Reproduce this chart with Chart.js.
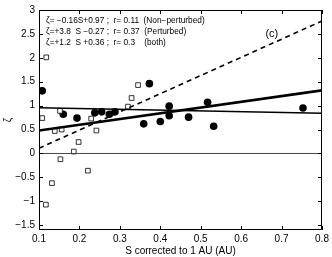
<!DOCTYPE html>
<html><head><meta charset="utf-8">
<script src="https://cdn.jsdelivr.net/npm/chart.js@4/dist/chart.umd.min.js"></script>
<style>html,body{margin:0;padding:0;background:#fff}#w{width:332px;height:257px;position:relative}</style>
</head><body><div id="w"><canvas id="c"></canvas></div>
<script>
// Non-perturbed (filled circles)
const circleS = [0.108,0.160,0.194,0.238,0.255,0.274,0.288,0.359,0.373,0.400,0.422,0.422,0.470,0.517,0.532,0.753];
const circleZ = [1.31,0.82,0.74,0.85,0.87,0.82,0.87,0.62,1.46,0.67,0.99,0.79,0.76,1.07,0.57,0.95];
// Perturbed (open squares)
const squareS = [0.108,0.117,0.118,0.132,0.139,0.152,0.153,0.156,0.186,0.198,0.221,0.229,0.242,0.320,0.329,0.345];
const squareZ = [0.74,-1.07,2.01,-0.62,0.47,0.89,-0.12,0.50,0.04,0.24,-0.36,0.73,0.48,0.98,1.16,1.43];
// Fits: [slope, intercept]
const fitNon = [-0.16, 0.97];
const fitPert = [3.8, -0.27];
const fitBoth = [1.2, 0.36];
const lineRange = [0.1, 0.8];
const xTicks = [0.1,0.2,0.3,0.4,0.5,0.6,0.7,0.8];
const yTicks = [-1.5,-1,-0.5,0,0.5,1,1.5,2,2.5,3];
const legendLines = [
  "\u03B6= \u22120.16S+0.97 ;  r= 0.11  (Non\u2212perturbed)",
  "\u03B6=+3.8  S \u22120.27 ;  r= 0.37  (Perturbed)",
  "\u03B6=+1.2  S +0.36 ;  r= 0.3    (both)"
];

const pts = (xs, ys) => xs.map((x,i)=>({x, y: ys[i]}));
const fitPts = f => lineRange.map(x=>({x, y: f[0]*x + f[1]}));

const frame = {
  id:'frame',
  afterDraw(chart){
    const {ctx, chartArea:a, scales:{x,y}} = chart;
    ctx.save();
    ctx.strokeStyle='#000'; ctx.lineWidth=1;
    ctx.strokeRect(a.left+0.5, a.top+0.5, a.right-a.left-1, a.bottom-a.top-1);
    ctx.beginPath();
    const L=4;
    xTicks.forEach(v=>{const p=Math.round(x.getPixelForValue(v))+0.5;
      ctx.moveTo(p,a.bottom); ctx.lineTo(p,a.bottom-L);
      ctx.moveTo(p,a.top); ctx.lineTo(p,a.top+L);});
    yTicks.forEach(v=>{const p=Math.round(y.getPixelForValue(v))+0.5;
      ctx.moveTo(a.left,p); ctx.lineTo(a.left+L,p);
      ctx.moveTo(a.right,p); ctx.lineTo(a.right-L,p);});
    ctx.stroke();
    ctx.fillStyle='#000';
    ctx.font='8.3px "Liberation Sans", Arial, sans-serif';
    ctx.textBaseline='middle';
    legendLines.forEach((t,i)=>ctx.fillText(t, a.left+7, a.top+10.5+i*11));
    ctx.font='11px "Liberation Sans", Arial, sans-serif';
    ctx.fillText('(c)', x.getPixelForValue(0.66), y.getPixelForValue(2.5));
    ctx.restore();
  }
};

new Chart(document.getElementById('c'), {
  type:'scatter',
  data:{datasets:[
    {data: lineRange.map(x=>({x,y:0})), showLine:true, borderColor:'#444', borderWidth:1, pointRadius:0},
    {data: fitPts(fitNon), showLine:true, borderColor:'#000', borderWidth:1.5, pointRadius:0},
    {data: fitPts(fitPert), showLine:true, borderColor:'#000', borderWidth:1.6, borderDash:[5,4], pointRadius:0},
    {data: fitPts(fitBoth), showLine:true, borderColor:'#000', borderWidth:2.6, pointRadius:0},
    {data: pts(squareS, squareZ), pointStyle:'rect', pointRadius:3.3, borderWidth:0.8, borderColor:'#000', backgroundColor:'#fff'},
    {data: pts(circleS, circleZ), pointStyle:'circle', pointRadius:3.8, borderWidth:0, backgroundColor:'#000'}
  ]},
  options:{
    responsive:true, maintainAspectRatio:false, animation:false,
    layout:{padding:{top:5,right:10,left:0,bottom:0}},
    plugins:{legend:{display:false}, tooltip:{enabled:false}},
    scales:{
      x:{type:'linear', min:0.1, max:0.8,
        afterBuildTicks(s){s.ticks = xTicks.map(v=>({value:v}));},
        afterFit(s){s.height=27;},
        grid:{display:false, drawTicks:false}, border:{display:false},
        ticks:{padding:3, color:'#000', font:{family:'"Liberation Sans", Arial, sans-serif', size:10},
          callback:v=>String(v)},
        title:{display:true, text:'S corrected to 1 AU (AU)', color:'#000', padding:{top:0,bottom:0},
          font:{family:'"Liberation Sans", Arial, sans-serif', size:10}}
      },
      y:{type:'linear', min:-1.6, max:3,
        afterBuildTicks(s){s.ticks = yTicks.map(v=>({value:v}));},
        afterFit(s){s.width=39;},
        grid:{display:false, drawTicks:false}, border:{display:false},
        ticks:{padding:4, color:'#000', font:{family:'"Liberation Sans", Arial, sans-serif', size:10},
          callback:v=>String(v).replace('-','\u2212')},
        title:{display:true, text:'\u03B6', color:'#000', padding:{top:2,bottom:2},
          font:{family:'"Liberation Sans", Arial, sans-serif', size:10}}
      }
    }
  },
  plugins:[frame]
});
</script></body></html>
